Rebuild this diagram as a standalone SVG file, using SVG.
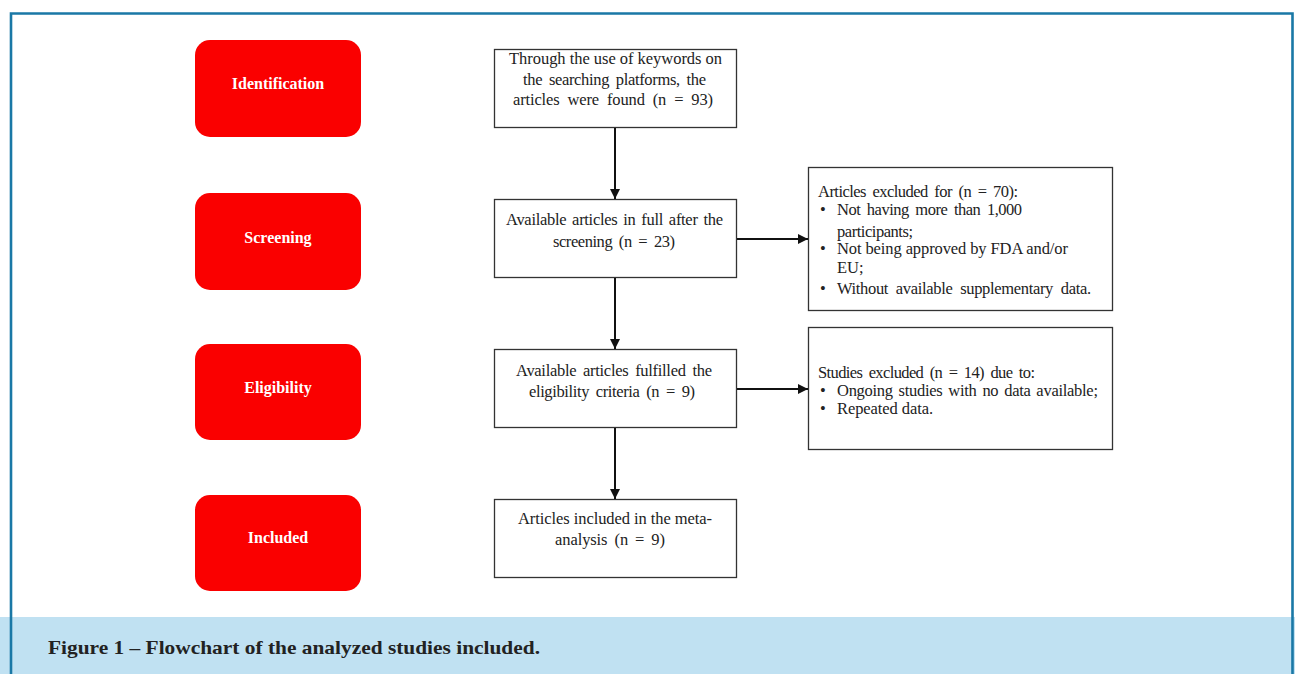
<svg xmlns="http://www.w3.org/2000/svg" width="1295" height="674" viewBox="0 0 1295 674">
<style>
.stage{fill:#fa0000;}
.stxt{font-family:"Liberation Serif",serif;font-weight:bold;font-size:16px;fill:#fff;text-anchor:middle;}
.box{fill:#fff;stroke:#333;stroke-width:1.3;}
.t{font-family:"Liberation Serif",serif;font-size:16.5px;fill:#222;}
.conn{stroke:#111;stroke-width:2;fill:none;marker-end:url(#ah);}
</style>
<defs>
<marker id="ah" viewBox="0 0 10 10" refX="10" refY="5" markerWidth="5" markerHeight="5" orient="auto" markerUnits="strokeWidth">
<path d="M0,0 L10,5 L0,10 z" fill="#111"/>
</marker>
</defs>
<rect x="0" y="0" width="1295" height="674" fill="#fff"/>
<rect x="0" y="617" width="1295" height="57" fill="#c0e1f2"/>
<path d="M11,680 V13.5 H1292.5 V680" fill="none" stroke="#1a78a6" stroke-width="2.6"/>
<text x="48" y="654" font-family="Liberation Serif,serif" font-weight="bold" font-size="19" fill="#222" textLength="492" lengthAdjust="spacingAndGlyphs">Figure 1 – Flowchart of the analyzed studies included.</text>

<g id="stage-identification"><rect class="stage" x="195" y="40" width="166" height="97" rx="15"/><text class="stxt" x="278" y="89">Identification</text></g>
<g id="stage-screening"><rect class="stage" x="195" y="193" width="166" height="97" rx="15"/><text class="stxt" x="278" y="243">Screening</text></g>
<g id="stage-eligibility"><rect class="stage" x="195" y="344" width="166" height="96" rx="15"/><text class="stxt" x="278" y="393">Eligibility</text></g>
<g id="stage-included"><rect class="stage" x="195" y="495" width="166" height="96" rx="15"/><text class="stxt" x="278" y="543">Included</text></g>

<g id="found"><rect class="box" x="494.5" y="49.5" width="242" height="78"/>
<text class="t" x="509" y="64" textLength="213">Through the use of keywords on</text>
<text class="t" x="523" y="85" textLength="183" word-spacing="3">the searching platforms, the</text>
<text class="t" x="513" y="105" textLength="200" word-spacing="4">articles were found (n = 93)</text></g>

<g id="screened"><rect class="box" x="494.5" y="199.5" width="242" height="78"/>
<text class="t" x="506" y="225" textLength="217" word-spacing="2">Available articles in full after the</text>
<text class="t" x="553" y="247" textLength="122" word-spacing="3">screening (n = 23)</text></g>

<g id="eligible"><rect class="box" x="494.5" y="349.5" width="242" height="78"/>
<text class="t" x="516" y="376" textLength="196" word-spacing="3">Available articles fulfilled the</text>
<text class="t" x="529" y="397" textLength="166" word-spacing="3">eligibility criteria (n = 9)</text></g>

<g id="included"><rect class="box" x="494.5" y="499.5" width="242" height="78"/>
<text class="t" x="518" y="524" textLength="194">Articles included in the meta-</text>
<text class="t" x="555" y="545" textLength="110" word-spacing="3">analysis (n = 9)</text></g>

<g id="excluded-screening"><rect class="box" x="808.5" y="167.5" width="304" height="143"/>
<text class="t" x="818" y="197" textLength="200" word-spacing="3">Articles excluded for (n = 70):</text>
<text class="t" x="820" y="215">•</text><text class="t" x="837" y="215" textLength="185" word-spacing="3">Not having more than 1,000</text>
<text class="t" x="837" y="237" textLength="76">participants;</text>
<text class="t" x="820" y="254">•</text><text class="t" x="837" y="254" textLength="231">Not being approved by FDA and/or</text>
<text class="t" x="837" y="273">EU;</text>
<text class="t" x="820" y="294">•</text><text class="t" x="837" y="294" textLength="254" word-spacing="4">Without available supplementary data.</text></g>

<g id="excluded-eligibility"><rect class="box" x="808.5" y="327.5" width="304" height="122"/>
<text class="t" x="818" y="378" textLength="217" word-spacing="3">Studies excluded (n = 14) due to:</text>
<text class="t" x="820" y="396">•</text><text class="t" x="837" y="396" textLength="261" word-spacing="2">Ongoing studies with no data available;</text>
<text class="t" x="820" y="414">•</text><text class="t" x="837" y="414" textLength="96">Repeated data.</text></g>

<g id="connectors">
<line class="conn" x1="615" y1="128" x2="615" y2="199"/>
<line class="conn" x1="615" y1="278" x2="615" y2="349"/>
<line class="conn" x1="615" y1="428" x2="615" y2="499"/>
<line class="conn" x1="737" y1="239" x2="808" y2="239"/>
<line class="conn" x1="737" y1="389" x2="808" y2="389"/>
</g>
</svg>
